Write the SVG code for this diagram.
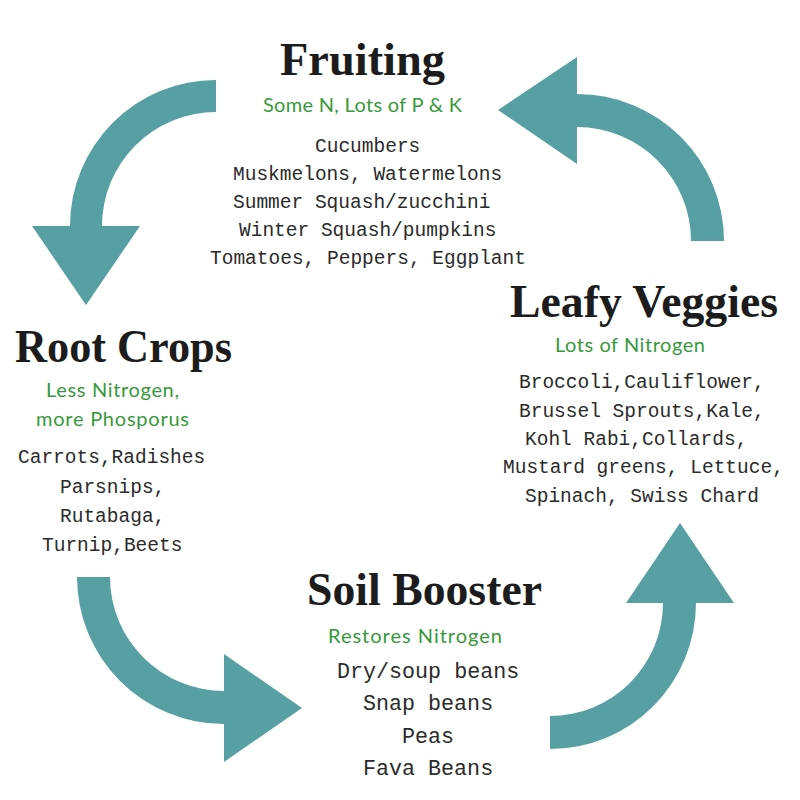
<svg xmlns="http://www.w3.org/2000/svg" width="800" height="800" viewBox="0 0 800 800">
<style>
.arrow{fill:#56a0a3;stroke:none}
.title{font-family:"Liberation Serif","Times New Roman",serif;font-weight:bold;font-size:47px;fill:#1c1c1c}
.sub{font-family:Lato,"Noto Sans",sans-serif;font-size:20px;fill:#36993b}
.body{font-family:"Liberation Mono","DejaVu Sans Mono",monospace;font-size:19.5px;fill:#2b2b2b}
.body2{font-family:"Liberation Mono","DejaVu Sans Mono",monospace;font-size:21.7px;fill:#2b2b2b}
</style>
<rect width="800" height="800" fill="#ffffff"/>
<g id="connectors">
<path class="arrow" d="M216 80 A146 146 0 0 0 70 226 L32 226 L86 305 L140 226 L102 226 A114 114 0 0 1 216 112 Z"/>
<path class="arrow" d="M724 241 A147 147 0 0 0 577 94 L577 57 L498 110 L577 164 L577 127 A114 114 0 0 1 691 241 Z"/>
<path class="arrow" d="M77 577 A147 147 0 0 0 224 724 L224 762 L302 708 L224 654 L224 691 A114 114 0 0 1 110 577 Z"/>
<path class="arrow" d="M550 749 A146 146 0 0 0 696 603 L734 603 L680 523 L626 603 L663 603 A113 113 0 0 1 550 716 Z"/>
</g>
<g id="fruiting">
<text class="title" x="280" y="75" textLength="165" lengthAdjust="spacingAndGlyphs">Fruiting</text>
<text class="sub" x="263" y="112" textLength="199">Some N, Lots of P &amp; K</text>
<text class="body" x="315" y="152">Cucumbers</text>
<text class="body" x="233" y="180">Muskmelons, Watermelons</text>
<text class="body" x="233" y="208">Summer Squash/zucchini</text>
<text class="body" x="239" y="236">Winter Squash/pumpkins</text>
<text class="body" x="210" y="264">Tomatoes, Peppers, Eggplant</text>
</g>
<g id="root-crops">
<text class="title" x="15" y="362" textLength="217" lengthAdjust="spacingAndGlyphs">Root Crops</text>
<text class="sub" x="46" y="397" textLength="133">Less Nitrogen,</text>
<text class="sub" x="36" y="426" textLength="153">more Phosporus</text>
<text class="body" x="18" y="463">Carrots,Radishes</text>
<text class="body" x="60" y="493">Parsnips,</text>
<text class="body" x="60" y="522">Rutabaga,</text>
<text class="body" x="42" y="551">Turnip,Beets</text>
</g>
<g id="leafy-veggies">
<text class="title" x="510" y="317" textLength="268" lengthAdjust="spacingAndGlyphs">Leafy Veggies</text>
<text class="sub" x="555" y="352" textLength="150">Lots of Nitrogen</text>
<text class="body" x="519" y="388">Broccoli,Cauliflower,</text>
<text class="body" x="519" y="417">Brussel Sprouts,Kale,</text>
<text class="body" x="525" y="445">Kohl Rabi,Collards,</text>
<text class="body" x="503" y="473">Mustard greens, Lettuce,</text>
<text class="body" x="525" y="502">Spinach, Swiss Chard</text>
</g>
<g id="soil-booster">
<text class="title" x="307" y="605" textLength="235" lengthAdjust="spacingAndGlyphs">Soil Booster</text>
<text class="sub" x="328" y="643" textLength="174">Restores Nitrogen</text>
<text class="body2" x="337" y="678">Dry/soup beans</text>
<text class="body2" x="363" y="710">Snap beans</text>
<text class="body2" x="402" y="743">Peas</text>
<text class="body2" x="363" y="775">Fava Beans</text>
</g>
</svg>
